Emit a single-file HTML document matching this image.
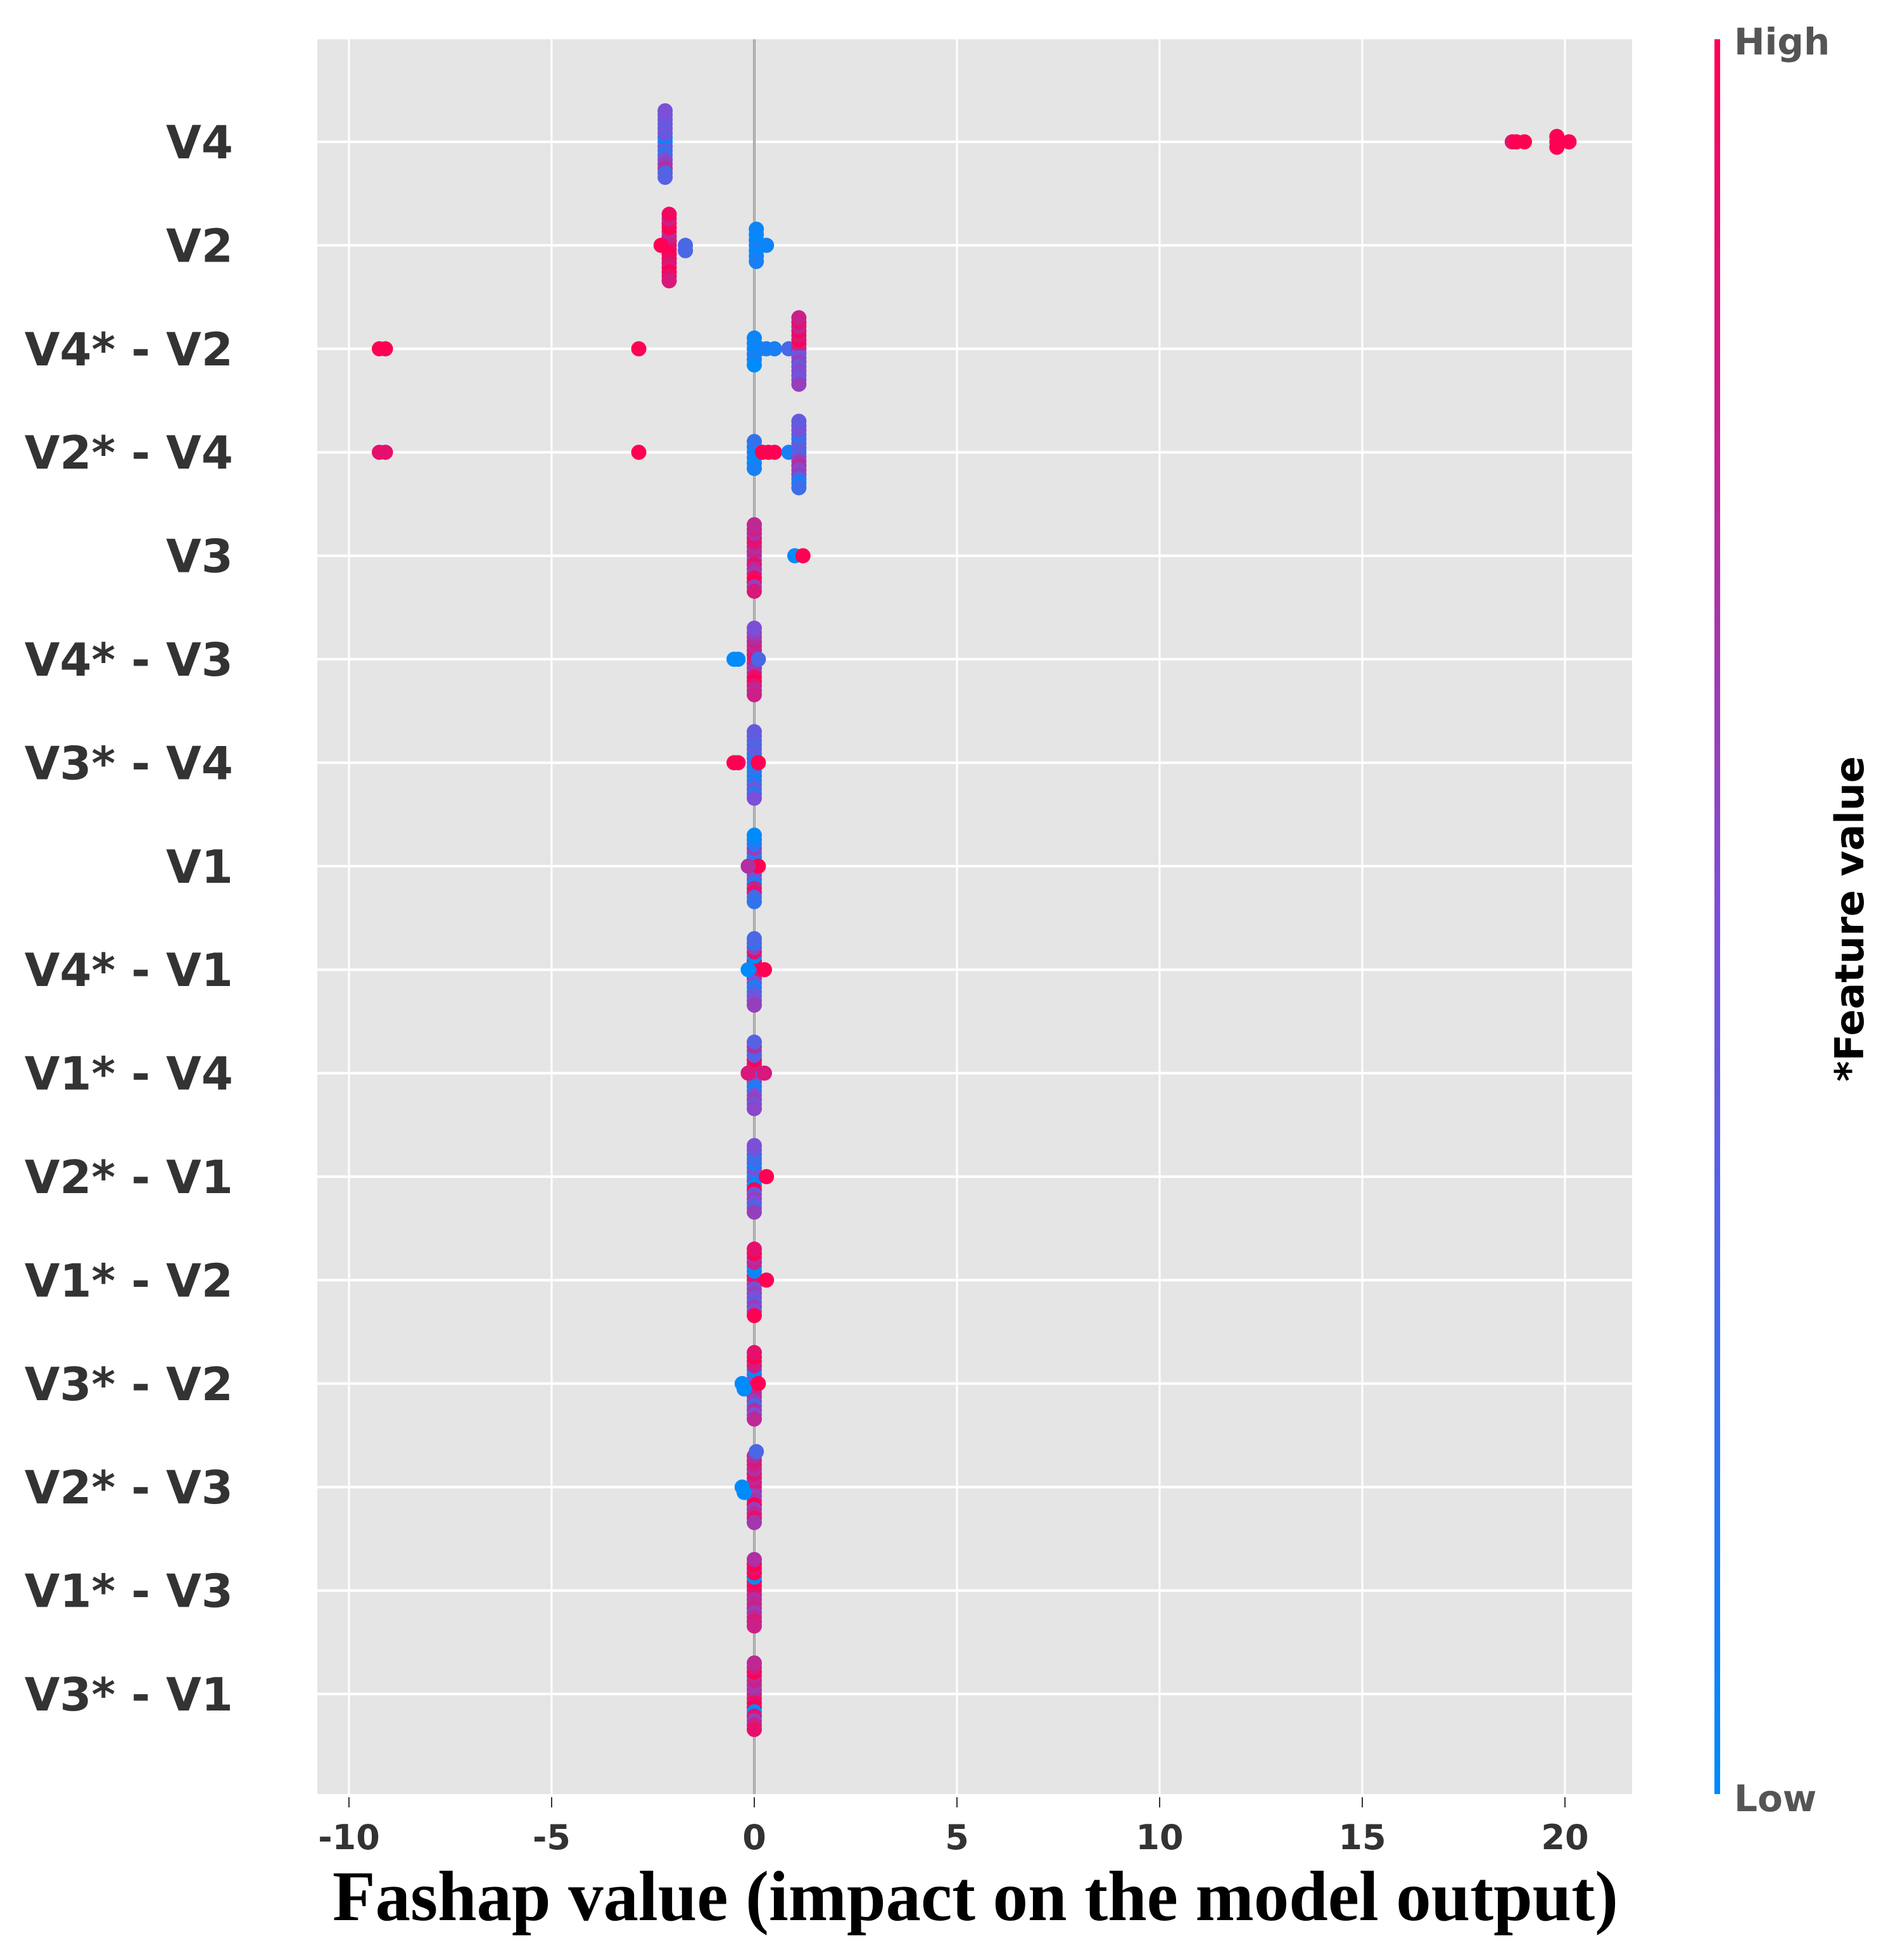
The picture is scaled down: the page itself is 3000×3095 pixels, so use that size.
<!DOCTYPE html>
<html><head><meta charset="utf-8"><style>
html,body{margin:0;padding:0;background:#fff;}
svg{display:block;}
</style></head><body>
<svg id="chart" width="3000" height="3095" viewBox="0 0 3000 3095" xmlns="http://www.w3.org/2000/svg">
<rect x="501" y="62" width="2076" height="2771" fill="#e5e5e5"/>
<g id="grid"></g>
<g id="dots"></g>
<g id="ylabels"></g>
<g id="xticks"></g>
<text x="1540" y="3032" text-anchor="middle" font-family="Liberation Serif, serif" font-weight="bold" font-size="112" textLength="2030" lengthAdjust="spacingAndGlyphs" fill="#000">Fashap value (impact on the model output)</text>
<defs><linearGradient id="cg" x1="0" y1="1" x2="0" y2="0">
<stop offset="0" stop-color="#008bfb"/><stop offset="0.5" stop-color="#7c4fd8"/><stop offset="1" stop-color="#ff0052"/></linearGradient></defs>
<rect x="2707" y="62" width="9" height="2771" fill="url(#cg)"/>
<text x="2738" y="86" font-family="DejaVu Sans, sans-serif" font-weight="bold" font-size="58" fill="#555">High</text>
<text x="2738" y="2860" font-family="DejaVu Sans, sans-serif" font-weight="bold" font-size="58" fill="#555">Low</text>
<text transform="translate(2942,1451) rotate(-90)" text-anchor="middle" font-family="DejaVu Sans, sans-serif" font-weight="bold" font-size="62" fill="#000">*Feature value</text>
</svg>
<script>
const features = ["V4","V2","V4* - V2","V2* - V4","V3","V4* - V3","V3* - V4","V1","V4* - V1","V1* - V4","V2* - V1","V1* - V2","V3* - V2","V2* - V3","V1* - V3","V3* - V1"];
const xTicks = [-10,-5,0,5,10,15,20];
const tickLabels = ["-10","-5","0","5","10","15","20"];
// SHAP values per feature row
const shapVals = [
 [-2.2,-2.2,-2.2,-2.2,-2.2,-2.2,-2.2,-2.2,-2.2,-2.2,-2.2,-2.2,-2.2,-2.2,-2.2,-2.2,18.7,18.8,19.0,19.8,19.8,19.8,20.1],
 [-2.1,-2.1,-2.1,-2.1,-2.1,-2.1,-2.1,-2.1,-2.1,-2.1,-2.1,-2.1,-2.1,-2.1,-2.1,-2.1,-2.3,-1.7,-1.7,0.05,0.05,0.05,0.05,0.05,0.05,0.05,0.3],
 [-9.25,-9.1,-2.85,0.0,0.0,0.0,0.0,0.0,0.0,0.15,0.3,0.5,0.85,1.1,1.1,1.1,1.1,1.1,1.1,1.1,1.1,1.1,1.1,1.1,1.1,1.1,1.1,1.1,1.1],
 [-9.25,-9.1,-2.85,0.0,0.0,0.0,0.0,0.0,0.0,0.2,0.35,0.5,0.85,1.1,1.1,1.1,1.1,1.1,1.1,1.1,1.1,1.1,1.1,1.1,1.1,1.1,1.1,1.1,1.1],
 [0,0,0,0,0,0,0,0,0,0,0,0,0,0,0,0,1.0,1.2],
 [0,0,0,0,0,0,0,0,0,0,0,0,0,0,0,0,-0.5,-0.4,0.1],
 [0,0,0,0,0,0,0,0,0,0,0,0,0,0,0,0,-0.5,-0.4,0.1],
 [0,0,0,0,0,0,0,0,0,0,0,0,0,0,0,0,-0.15,0.1],
 [0,0,0,0,0,0,0,0,0,0,0,0,0,0,0,0,-0.15,0.25],
 [0,0,0,0,0,0,0,0,0,0,0,0,0,0,0,0,-0.15,0.25],
 [0,0,0,0,0,0,0,0,0,0,0,0,0,0,0,0,0.3],
 [0,0,0,0,0,0,0,0,0,0,0,0,0,0,0,0,0.3],
 [0,0,0,0,0,0,0,0,0,0,0,0,0,0,0,0,-0.3,-0.25,0.1],
 [0,0,0,0,0,0,0,0,0,0,0,0,0,0,0,0,-0.3,-0.25,0.05],
 [0,0,0,0,0,0,0,0,0,0,0,0,0,0,0,0],
 [0,0,0,0,0,0,0,0,0,0,0,0,0,0,0,0]
];
// normalized feature values (0 = low/blue, 1 = high/red)
const featVals = [
 [0.0,0.4,0.1,0.35,0.45,0.2,0.4,0.5,0.45,0.6,0.4,0.7,0.45,0.3,0.5,0.35,0.9,1,1,1,1,1,1],
 [1,0.85,0.9,1,0.8,0.95,0.75,0.9,1,0.85,0.95,1,0.8,0.9,0.95,0.85,1,0.3,0.3,0.05,0.0,0.1,0.05,0.0,0.1,0.05,0.05],
 [1,1,1,0.05,0.1,0.0,0.1,0.05,0.0,0.05,0.1,0.1,0.3,0.9,0.5,0.8,0.45,1,0.6,0.85,0.4,0.95,0.55,0.75,0.5,0.9,0.45,0.8,0.6],
 [0.9,0.9,1,0.3,0.1,0.05,0.0,0.2,0.1,1,1,1,0.1,0.1,0.5,0.3,0.6,0.4,0.7,0.35,0.55,0.2,0.6,0.45,0.3,0.5,0.1,0.4,0.25],
 [0.7,0.6,0.8,0.9,0.7,0.75,0.85,0.65,0.9,0.95,0.7,1,0.8,0.6,0.75,0.85,0.0,1],
 [0.6,0.8,0.9,0.7,0.85,0.65,0.75,0.9,0.8,1,0.7,0.85,0.6,0.75,0.5,0.8,0.0,0.0,0.3],
 [0.1,0.2,0.3,0.0,0.15,0.25,0.35,0.1,0.4,0.2,0.3,0.45,0.35,0.15,0.4,0.5,1,1,1],
 [0.0,0.4,0.1,0.3,0.0,0.5,0.2,0.1,0.6,0.8,0.2,0.9,0.1,0.3,0.0,0.2,0.7,1],
 [0.0,0.2,0.4,0.8,1,0.5,0.0,0.1,0.9,0.3,0.6,0.4,0.2,0.5,0.3,0.6,0.0,1],
 [0.4,0.5,0.3,0.6,0.8,0.2,1,0.1,0.4,0.5,0.3,0.6,0.7,0.45,0.35,0.55,0.85,0.85],
 [0.1,0.6,0.2,0.0,0.5,1,0.1,0.4,0.3,0.6,0.2,0.5,0.4,0.3,0.5,0.6,1],
 [1,0.7,0.9,0.5,0.1,0.6,0.0,0.5,0.8,0.4,0.7,0.6,1,0.5,0.9,1,1],
 [1,0.7,0.9,0.6,0.5,0.75,0.0,0.6,0.8,0.3,0.85,0.7,1,0.5,0.9,0.75,0.0,0.0,1],
 [0.8,0.7,0.85,0.6,0.75,0.65,0.9,1,0.7,0.6,0.8,0.75,0.85,0.9,0.7,0.65,0.0,0.0,0.3],
 [0.8,0.85,0.9,0.7,1,0.75,0.0,0.8,1,0.6,0.9,0.75,1,0.85,0.7,0.8],
 [0.8,0.85,0.7,0.9,0.65,1,0.8,0.0,0.75,0.9,1,0.6,0.85,0.8,0.75,0.9]
];
const NS='http://www.w3.org/2000/svg';
const X0=1191, PX=64, Y0=224, DY=163.4, L=501, R=2577, T=62, B=2833;
function xs(v){return X0+v*PX;}
function ys(i){return Y0+i*DY;}
function lerp(a,b,t){return Math.round(a+(b-a)*t);}
function color(f){const lo=[0,139,251],mid=[124,79,216],hi=[255,0,82];let a,b,t;
 if(f<0.5){a=lo;b=mid;t=f/0.5;}else{a=mid;b=hi;t=(f-0.5)/0.5;}
 return 'rgb('+lerp(a[0],b[0],t)+','+lerp(a[1],b[1],t)+','+lerp(a[2],b[2],t)+')';}
function mk(tag,attrs,parent){const e=document.createElementNS(NS,tag);for(const k in attrs)e.setAttribute(k,attrs[k]);parent.appendChild(e);return e;}
const grid=document.getElementById('grid');
xTicks.forEach(function(t){
 const g=mk('line',{x1:xs(t),x2:xs(t),y1:T,y2:B,stroke:'#fff','stroke-width':3},grid);
 
 
});
features.forEach(function(f,i){
 const g=mk('line',{x1:L,x2:R,y1:ys(i),y2:ys(i),stroke:'#fff','stroke-width':4},grid);
 
 
});
const zl=mk('line',{x1:X0,x2:X0,y1:T,y2:B,stroke:'#999','stroke-width':4},grid);


const zl2=mk('line',{x1:X0,x2:X0,y1:T,y2:B,stroke:'#ddd','stroke-width':1},grid);


const xt=document.getElementById('xticks');
xTicks.forEach(function(t,k){
 const tk=mk('line',{x1:xs(t),x2:xs(t),y1:2838,y2:2854,stroke:'#333','stroke-width':2},xt);
 
 
 const tx=mk('text',{x:xs(t),y:2920,'text-anchor':'middle','font-family':'DejaVu Sans, sans-serif','font-weight':'bold','font-size':54,fill:'#333'},xt);
 tx.textContent=tickLabels[k];
 
 
});
const yl=document.getElementById('ylabels');
features.forEach(function(f,i){
 const tx=mk('text',{x:368,y:ys(i)+26,'text-anchor':'end','font-family':'DejaVu Sans, sans-serif','font-weight':'bold','font-size':72,fill:'#333'},yl);
 tx.textContent=f;
 
 
});
const dots=document.getElementById('dots');
shapVals.forEach(function(vals,i){
 const bins={};
 vals.forEach(function(v,j){const k=Math.round(v/0.12);(bins[k]=bins[k]||[]).push(j);});
 Object.keys(bins).forEach(function(k){
  const idx=bins[k];const n=idx.length;
  const d=n>1?Math.min(8.5,56/Math.ceil((n-1)/2)):0;
  idx.forEach(function(j,m){
   const off=m===0?0:(m%2?1:-1)*Math.ceil(m/2)*d;
   const c=mk('ellipse',{cx:xs(vals[j]),cy:ys(i)+off,rx:12,ry:12,fill:color(featVals[i][j])},dots);
   
   
  });
 });
});
</script>
</body></html>
